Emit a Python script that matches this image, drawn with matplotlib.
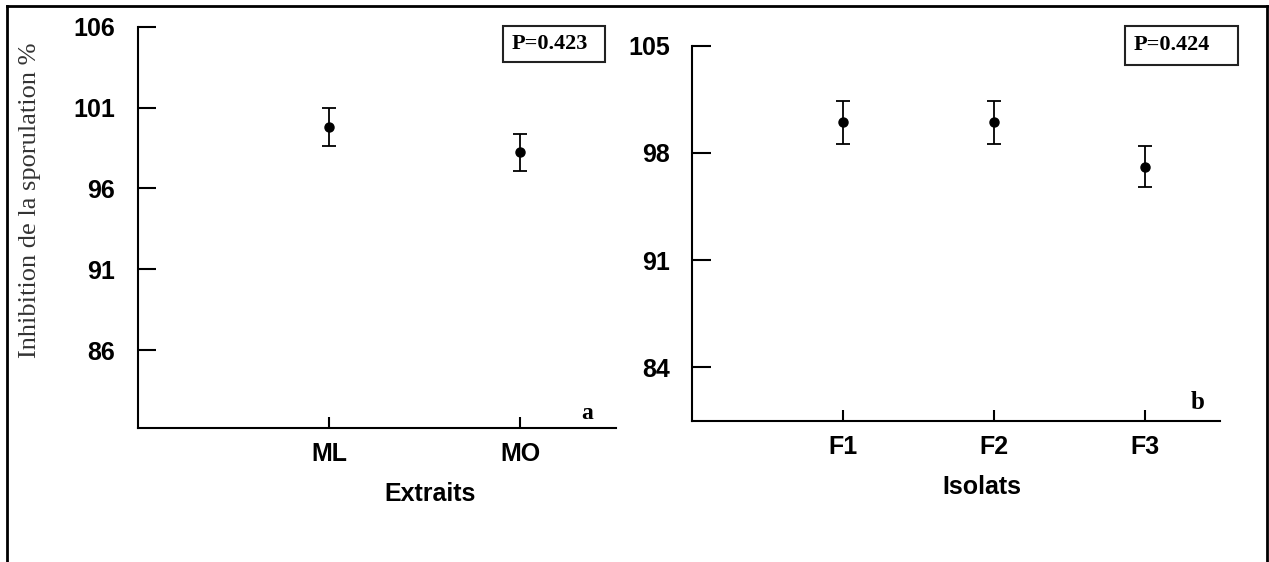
import matplotlib
matplotlib.use('Agg')
import matplotlib.pyplot as plt
from matplotlib.patches import Rectangle
from matplotlib.lines import Line2D

# Panel a : extraits
extraits = ['ML', 'MO']
ext_mean = [99.8, 98.25]
ext_err = [1.2, 1.15]
ext_ticks = [86, 91, 96, 101, 106]

# Panel b : isolats
isolats = ['F1', 'F2', 'F3']
iso_mean = [100.0, 100.0, 97.1]
iso_err = [1.4, 1.4, 1.35]
iso_ticks = [84, 91, 98, 105]

SANS = 'Liberation Sans'
SERIF = 'Liberation Serif'


def style_axes(ax, ylim, yticks, labels, xlim, ylen):
    ax.set_xlim(*xlim)
    ax.set_ylim(*ylim)
    ax.set_yticks(yticks)
    ax.set_xticks(range(1, len(labels) + 1))
    ax.set_xticklabels(labels)
    for s in ['top', 'right']:
        ax.spines[s].set_visible(False)
    for s in ['left', 'bottom']:
        ax.spines[s].set_linewidth(1.5)
    ax.tick_params(axis='y', direction='in', length=ylen, width=1.5, pad=16)
    ax.tick_params(axis='x', direction='in', length=8, width=1.5, pad=10)
    for lab in ax.get_xticklabels() + ax.get_yticklabels():
        lab.set_fontfamily(SANS)
        lab.set_fontweight('bold')
        lab.set_fontsize(18)


fig = plt.figure(figsize=(12.69, 5.62), dpi=100)
W, H = 1269, 562

# left panel
ax1 = fig.add_axes([0.1084, 0.2391, 0.377, 0.713])
x1 = list(range(1, len(extraits) + 1))
ax1.errorbar(x1, ext_mean, yerr=ext_err, fmt='o', color='black', ms=6.5,
             capsize=5, elinewidth=1.3, capthick=1.3)
style_axes(ax1, (81.2, 106), ext_ticks, extraits, (0, 2.5), 13)
ax1.set_xlabel('Extraits', fontfamily=SANS, fontweight='bold', fontsize=18)
ax1.xaxis.label.set_va('center')
ax1.xaxis.set_label_coords(0.611, -0.166)
ax1.text(2.35, 82.1, 'a', fontfamily=SERIF, fontweight='bold', fontsize=17,
         ha='center', va='center')

# y label (shared, left side)
fig.text(30 / W, 1 - 200 / H, 'Inhibition de la sporulation %', fontfamily=SERIF,
         fontsize=19, color='#333333', rotation=90, ha='center', va='center')

# right panel
ax2 = fig.add_axes([0.5456, 0.2509, 0.4158, 0.6678])
x2 = list(range(1, len(isolats) + 1))
ax2.errorbar(x2, iso_mean, yerr=iso_err, fmt='o', color='black', ms=6.5,
             capsize=5, elinewidth=1.3, capthick=1.3)
style_axes(ax2, (80.5, 105), iso_ticks, isolats, (0, 3.5), 14)
ax2.set_xlabel('Isolats', fontfamily=SANS, fontweight='bold', fontsize=18)
ax2.xaxis.label.set_va('center')
ax2.xaxis.set_label_coords(0.549, -0.176)
ax2.text(3.35, 81.7, 'b', fontfamily=SERIF, fontweight='bold', fontsize=18,
         ha='center', va='center')

# P-value boxes (pixel coords converted to figure fractions)
for (bx0, by0, bx1, by1, txt) in [(503, 26, 605, 62, 'P=0.423'),
                                   (1125, 26, 1238, 65, 'P=0.424')]:
    fig.patches.append(Rectangle((bx0 / W, 1 - by1 / H), (bx1 - bx0) / W,
                                 (by1 - by0) / H, transform=fig.transFigure,
                                 fill=False, edgecolor='#222222', linewidth=1.5))
    fig.text((bx0 + 9) / W, 1 - (by0 + by1) / 2 / H, txt, fontfamily=SERIF,
             fontweight='bold', fontsize=16, ha='left', va='center')

# outer frame
for xs, ys in [([7 / W, 7 / W], [0, 1 - 6 / H]),
               ([7 / W, 1267 / W], [1 - 6 / H, 1 - 6 / H]),
               ([1267 / W, 1267 / W], [1 - 6 / H, 0])]:
    fig.lines.append(Line2D(xs, ys, transform=fig.transFigure, color='black',
                            linewidth=2))

fig.savefig('out.png', dpi=100)
